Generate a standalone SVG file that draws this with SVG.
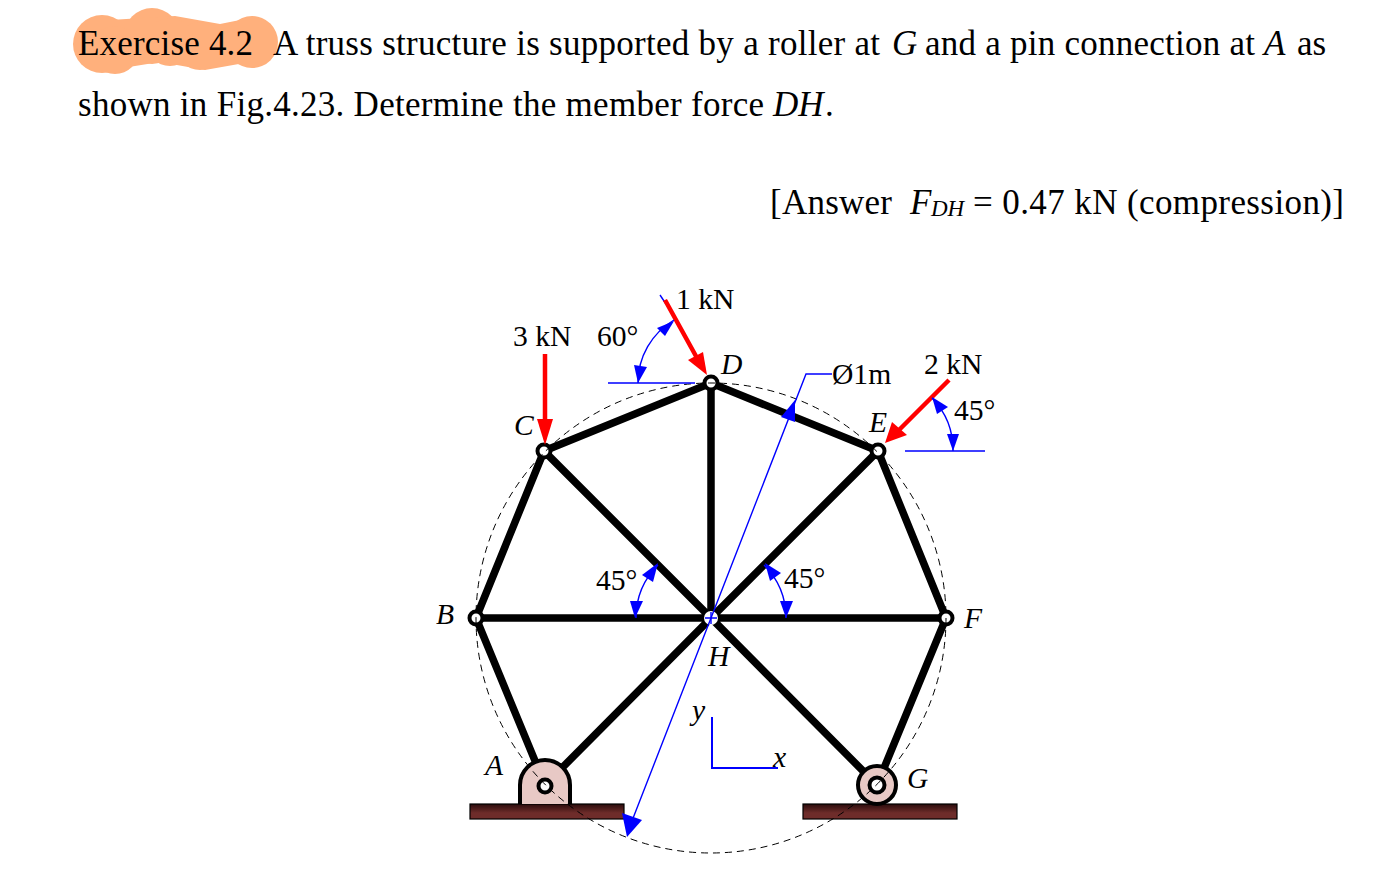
<svg xmlns="http://www.w3.org/2000/svg" width="1396" height="886" viewBox="0 0 1396 886">
<style>
text{font-family:"Liberation Serif","Times New Roman",serif;fill:#000}
.t{font-size:35px}
.l{font-size:29.6px}
.i{font-style:italic}
.m{stroke:#000;stroke-width:7.5;stroke-linecap:round;fill:none}
.j{fill:#fff;stroke:#000;stroke-width:4}
.b{stroke:#00f;stroke-width:1.4;fill:none}
.bf{fill:#00f}
.r{stroke:#f00;stroke-width:4.5;fill:none}
.rf{fill:#f00}
.p{fill:url(#g);stroke:#000;stroke-width:1.2}
</style>
<defs><linearGradient id="g" x1="0" y1="0" x2="0" y2="1"><stop offset="0" stop-color="#2a0c0c"/><stop offset="0.6" stop-color="#6e2c2a"/><stop offset="1" stop-color="#6e2c2a"/></linearGradient></defs>
<g id="highlight" fill="#ffb07c">
<circle cx="102" cy="44" r="29"/><circle cx="152" cy="36" r="28"/><path d="M110 20L175 16L220 24L250 18L270 40L250 62L205 70L160 62L110 70Z"/><circle cx="200" cy="46" r="24"/><circle cx="252" cy="42" r="26"/><circle cx="115" cy="50" r="24"/><circle cx="170" cy="42" r="24"/>
</g>
<g id="text-block">
<text class="t" x="78" y="55" textLength="175" lengthAdjust="spacing">Exercise 4.2</text>
<text class="t" x="273" y="55" textLength="607" lengthAdjust="spacing">A truss structure is supported by a roller at</text>
<text class="t i" x="892" y="55">G</text>
<text class="t" x="925" y="55" textLength="330" lengthAdjust="spacing">and a pin connection at</text>
<text class="t i" x="1264" y="55">A</text>
<text class="t" x="1297" y="55">as</text>
<text class="t" x="78" y="116" textLength="686" lengthAdjust="spacing">shown in Fig.4.23. Determine the member force</text>
<text class="t i" x="773" y="116">DH</text>
<text class="t" x="825" y="116">.</text>
<text class="t" x="770" y="214" textLength="122" lengthAdjust="spacing">[Answer</text>
<text class="t i" x="910" y="214">F</text>
<text class="i" x="931" y="216" font-size="23">DH</text>
<text class="t" x="973" y="214" textLength="371" lengthAdjust="spacing">= 0.47 kN (compression)]</text>
</g>
<g id="plates">
<rect class="p" x="470" y="804" width="154" height="15"/>
<rect class="p" x="803" y="804" width="154" height="15"/>
</g>
<g id="connectors">
<path class="m" d="M476 618L544 451L711 383L878 451L946 618L877 785M476 618L545 785M476 618H946M711 383V618M544 451L711 618L877 785M878 451L711 618L545 785"/>
</g>
<g id="node-A"><path d="M520 804V785A25 25 0 0 1 570 785V804" fill="#e8c9c5" stroke="#000" stroke-width="4"/></g>
<g id="node-G"><circle cx="877" cy="785" r="19" fill="#e8c9c5" stroke="#000" stroke-width="4"/></g>
<g id="node-H"><circle cx="711" cy="618" r="7" fill="#fff"/><path class="b" d="M705 618h12M711 612v12"/></g>
<g id="node-B"><circle class="j" cx="476" cy="618" r="6.5"/></g>
<g id="node-C"><circle class="j" cx="544" cy="451" r="6.5"/></g>
<g id="node-D"><circle class="j" cx="711" cy="383" r="6.5"/></g>
<g id="node-E"><circle class="j" cx="878" cy="451" r="6.5"/></g>
<g id="node-F"><circle class="j" cx="946" cy="618" r="6.5"/></g>
<g id="pins"><circle class="j" cx="545" cy="786" r="6.5"/><circle class="j" cx="877" cy="785" r="7.5"/></g>
<g id="dimension">
<circle cx="711" cy="618" r="235" fill="none" stroke="#000" stroke-width="1" stroke-dasharray="7 5"/>
<path class="b" d="M630 826L806 374H832"/>
<path class="bf" d="M627 837L622 813L642 820Z"/>
<path class="bf" d="M795 400L781 417L795 422Z"/>
</g>
<g id="loads">
<path class="b" d="M660 295L666 304"/>
<path class="r" d="M545 354V425M665 300L697 358M949 380L898 431"/>
<path class="rf" d="M545 445L537 419H553Z"/>
<path class="rf" d="M707 375L688 360L703 352Z"/>
<path class="rf" d="M885 443L892 422L907 435Z"/>
</g>
<g id="angles">
<path class="b" d="M608 383H695M905 451H985"/>
<path class="b" d="M638 383A73 73 0 0 1 674 320"/>
<path class="bf" d="M638 383L634 365L647 367Z"/>
<path class="bf" d="M674 321L657 328L665 336Z"/>
<path class="b" d="M953 451A75 75 0 0 0 932 398"/>
<path class="bf" d="M953 451L947 434L959 434Z"/>
<path class="bf" d="M932 397L937 414L948 407Z"/>
<path class="b" d="M636 618A75 75 0 0 1 658 565"/>
<path class="bf" d="M635 618L630 601L643 601Z"/>
<path class="bf" d="M658 563L642 575L653 582Z"/>
<path class="b" d="M786 618A75 75 0 0 0 764 565"/>
<path class="bf" d="M786 618L780 601L793 601Z"/>
<path class="bf" d="M765 563L770 581L781 573Z"/>
</g>
<g id="axes"><path d="M712 717V768H778" fill="none" stroke="#00f" stroke-width="2"/></g>
<g id="labels">
<text class="l" x="676" y="309">1 kN</text>
<text class="l" x="513" y="346">3 kN</text>
<text class="l" x="597" y="346">60°</text>
<text class="l i" x="721" y="374">D</text>
<text class="l" x="832" y="384">Ø1m</text>
<text class="l" x="924" y="374">2 kN</text>
<text class="l" x="954" y="420">45°</text>
<text class="l i" x="514" y="435">C</text>
<text class="l i" x="869" y="432">E</text>
<text class="l" x="596" y="590">45°</text>
<text class="l" x="784" y="588">45°</text>
<text class="l i" x="436" y="624">B</text>
<text class="l i" x="964" y="628">F</text>
<text class="l i" x="708" y="666">H</text>
<text class="l i" x="692" y="720">y</text>
<text class="l i" x="773" y="767">x</text>
<text class="l i" x="485" y="775">A</text>
<text class="l i" x="907" y="788">G</text>
</g>
</svg>
